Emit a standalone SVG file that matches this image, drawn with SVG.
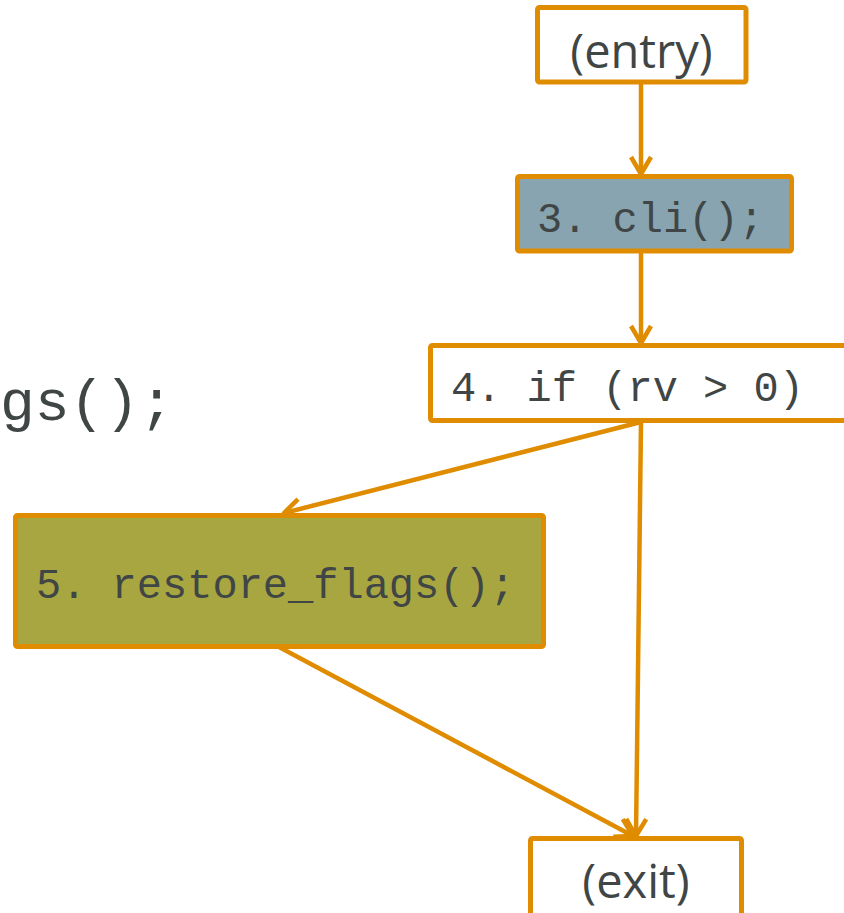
<svg xmlns="http://www.w3.org/2000/svg" width="844" height="913" viewBox="0 0 844 913">
<style>
.box{stroke:#DF8C00;stroke-width:5;}
.sans{font-family:"Open Sans","Noto Sans",sans-serif;font-size:47px;fill:#404545;}
.mono{font-family:"Liberation Mono",monospace;font-size:42px;fill:#404545;}
.edge{stroke:#DF8C00;stroke-width:4.5;fill:none;marker-end:url(#arr);}
</style>
<defs>
<marker id="arr" markerUnits="userSpaceOnUse" markerWidth="30" markerHeight="30" viewBox="-20 -15 24 30" refX="0" refY="0" orient="auto">
<path d="M-17,-10 L0,0 L-17,10" fill="none" stroke="#DF8C00" stroke-width="4.5" stroke-linejoin="round"/>
</marker>
</defs>
<text class="mono" x="0" y="420" style="font-size:58px">gs();</text>
<g id="connectors">
<line class="edge" x1="641" y1="82" x2="641" y2="174"/>
<line class="edge" x1="641" y1="251" x2="641" y2="343"/>
<line class="edge" x1="641" y1="422" x2="284" y2="513"/>
<line class="edge" x1="641" y1="422" x2="636" y2="836"/>
<line class="edge" x1="279" y1="647" x2="633" y2="836"/>
</g>
<g id="entry">
<rect class="box" x="537.5" y="7.5" width="208.5" height="74.5" rx="2" fill="#fff"/>
<text class="sans" x="641.5" y="68" text-anchor="middle">(entry)</text>
</g>
<g id="n3">
<rect class="box" x="517.5" y="176.5" width="274" height="74.5" rx="2" fill="#87A4B0"/>
<text class="mono" x="537" y="232">3. cli();</text>
</g>
<g id="n4">
<rect class="box" x="430.5" y="345.5" width="430" height="75" rx="2" fill="#fff"/>
<text class="mono" x="451" y="401">4. if (rv &gt; 0)</text>
</g>
<g id="n5">
<rect class="box" x="15.5" y="515.5" width="528" height="131" rx="2" fill="#A8A641"/>
<text class="mono" x="36" y="598">5. restore_flags();</text>
</g>
<g id="exit">
<rect class="box" x="530.5" y="838.5" width="211" height="90" rx="2" fill="#fff"/>
<text class="sans" x="636" y="898" text-anchor="middle">(exit)</text>
</g>
</svg>
